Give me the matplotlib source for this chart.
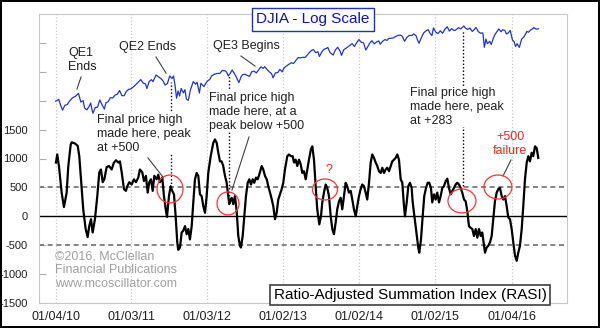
import numpy as np
import pandas as pd
import matplotlib
matplotlib.use('Agg')
import matplotlib.pyplot as plt
from matplotlib.patches import Ellipse

plt.rcParams['font.family'] = ['Liberation Sans', 'DejaVu Sans']

# DJIA closes (decimal year, level)
djia_t = [2010.01, 2010.05, 2010.08, 2010.10, 2010.13, 2010.16, 2010.19, 2010.23, 2010.27, 2010.31,
          2010.34, 2010.37, 2010.39, 2010.42, 2010.45, 2010.47, 2010.49, 2010.50, 2010.53, 2010.56,
          2010.59, 2010.62, 2010.65, 2010.67, 2010.70, 2010.73, 2010.76, 2010.79, 2010.82, 2010.85,
          2010.88, 2010.91, 2010.94, 2010.97, 2011.00, 2011.04, 2011.07, 2011.11, 2011.13, 2011.16,
          2011.19, 2011.21, 2011.24, 2011.27, 2011.29, 2011.33, 2011.36, 2011.39, 2011.42, 2011.45,
          2011.48, 2011.51, 2011.54, 2011.56, 2011.58, 2011.60, 2011.62, 2011.64, 2011.66, 2011.69,
          2011.71, 2011.73, 2011.755, 2011.78, 2011.82, 2011.85, 2011.87, 2011.90, 2011.92, 2011.96,
          2012.00, 2012.04, 2012.06, 2012.10, 2012.13, 2012.17, 2012.20, 2012.24, 2012.26, 2012.28,
          2012.31, 2012.33, 2012.36, 2012.38, 2012.42, 2012.45, 2012.47, 2012.50, 2012.53, 2012.56,
          2012.59, 2012.62, 2012.65, 2012.68, 2012.71, 2012.74, 2012.76, 2012.79, 2012.82, 2012.85,
          2012.87, 2012.90, 2012.93, 2012.96, 2012.99, 2013.01, 2013.04, 2013.08, 2013.11, 2013.14,
          2013.17, 2013.20, 2013.23, 2013.26, 2013.29, 2013.31, 2013.35, 2013.38, 2013.40, 2013.43,
          2013.46, 2013.48, 2013.51, 2013.54, 2013.57, 2013.59, 2013.62, 2013.66, 2013.69, 2013.72,
          2013.75, 2013.77, 2013.80, 2013.83, 2013.86, 2013.89, 2013.91, 2013.94, 2013.97, 2014.00,
          2014.03, 2014.06, 2014.09, 2014.12, 2014.14, 2014.17, 2014.20, 2014.23, 2014.26, 2014.28,
          2014.31, 2014.34, 2014.37, 2014.39, 2014.42, 2014.45, 2014.48, 2014.51, 2014.54, 2014.57,
          2014.60, 2014.63, 2014.66, 2014.70, 2014.72, 2014.75, 2014.77, 2014.79, 2014.82, 2014.85,
          2014.88, 2014.91, 2014.94, 2014.96, 2014.98, 2015.01, 2015.04, 2015.07, 2015.10, 2015.13,
          2015.16, 2015.19, 2015.22, 2015.25, 2015.27, 2015.31, 2015.34, 2015.38, 2015.40, 2015.43,
          2015.46, 2015.49, 2015.51, 2015.54, 2015.57, 2015.60, 2015.63, 2015.65, 2015.67, 2015.69,
          2015.72, 2015.74, 2015.77, 2015.79, 2015.82, 2015.84, 2015.87, 2015.89, 2015.92, 2015.94,
          2015.96, 2015.99, 2016.02, 2016.04, 2016.06, 2016.08, 2016.11, 2016.14, 2016.17, 2016.21,
          2016.23, 2016.26, 2016.29, 2016.30, 2016.33, 2016.36]
djia_v = [10580, 10725, 10190, 9910, 10270, 10320, 10570, 10840, 10970, 11200,
          10520, 10620, 10070, 9930, 10190, 10440, 9870, 9690, 10100, 10120,
          10680, 10300, 9990, 10450, 10540, 10860, 10830, 11060, 11130, 11440,
          11020, 11010, 11370, 11530, 11580, 11790, 11990, 12270, 12390, 12070,
          12020, 11610, 12220, 12380, 12200, 12810, 12640, 12510, 12290, 11900,
          12040, 12720, 12480, 12720, 11870, 10810, 11400, 10990, 11610, 11240,
          11510, 10730, 10650, 11430, 12210, 11980, 12150, 11230, 12050, 11770,
          12220, 12420, 12720, 12880, 12950, 12960, 13230, 13200, 13060, 12720,
          13000, 13280, 12960, 12700, 12120, 12650, 12840, 12880, 12770, 12680,
          13120, 13170, 13000, 13290, 13590, 13440, 13610, 13340, 13110, 12930,
          12540, 13010, 13030, 13350, 13100, 13440, 13650, 13860, 14010, 13930,
          14250, 14540, 14510, 14570, 14550, 14720, 15120, 15350, 15410, 15070,
          15180, 14660, 15140, 15460, 15540, 15660, 15080, 14810, 15380, 15680,
          15260, 14780, 15400, 15570, 15760, 15960, 16100, 15760, 16220, 16580,
          16260, 16200, 15370, 15800, 16130, 16450, 16070, 16300, 16420, 16030,
          16360, 16580, 16490, 16710, 16740, 16780, 16950, 17070, 17140, 16980,
          16370, 16840, 17080, 17100, 17280, 17070, 16540, 16140, 16800, 17390,
          17650, 17830, 17280, 17070, 18050, 17500, 17320, 17680, 17360, 17870,
          18210, 17640, 17960, 17710, 17760, 18080, 17930, 18310, 18040, 17850,
          18040, 17600, 17760, 18120, 17570, 17370, 17400, 15670, 16640, 16100,
          16380, 16000, 16800, 17220, 17650, 17920, 17550, 17810, 17720, 17270,
          17370, 17720, 16510, 16350, 15770, 16090, 15660, 16640, 16900, 17600,
          17500, 17790, 17990, 18100, 17890, 17930]

# Ratio-Adjusted Summation Index (decimal year, value)
rasi_t = [2010.013, 2010.030, 2010.053, 2010.088, 2010.118, 2010.154, 2010.175, 2010.207, 2010.220, 2010.263,
          2010.299, 2010.320, 2010.342, 2010.372, 2010.404, 2010.430, 2010.451, 2010.474, 2010.496, 2010.526,
          2010.557, 2010.583, 2010.605, 2010.628, 2010.649, 2010.680, 2010.711, 2010.746, 2010.776, 2010.803,
          2010.833, 2010.855, 2010.878, 2010.908, 2010.934, 2010.951, 2010.978, 2011.009, 2011.039, 2011.066,
          2011.096, 2011.118, 2011.149, 2011.171, 2011.197, 2011.220, 2011.241, 2011.263, 2011.286, 2011.307,
          2011.338, 2011.359, 2011.382, 2011.412, 2011.434, 2011.461, 2011.474, 2011.500, 2011.522, 2011.543,
          2011.566, 2011.588, 2011.609, 2011.622, 2011.645, 2011.667, 2011.688, 2011.711, 2011.733, 2011.754,
          2011.776, 2011.799, 2011.820, 2011.842, 2011.864, 2011.886, 2011.908, 2011.930, 2011.951, 2011.974,
          2011.996, 2012.017, 2012.049, 2012.083, 2012.105, 2012.128, 2012.149, 2012.171, 2012.193, 2012.214,
          2012.237, 2012.259, 2012.280, 2012.293, 2012.312, 2012.325, 2012.346, 2012.368, 2012.391, 2012.412,
          2012.434, 2012.447, 2012.470, 2012.491, 2012.513, 2012.536, 2012.557, 2012.579, 2012.601, 2012.622,
          2012.645, 2012.667, 2012.688, 2012.720, 2012.741, 2012.763, 2012.786, 2012.807, 2012.842, 2012.872,
          2012.895, 2012.917, 2012.938, 2012.961, 2012.983, 2013.004, 2013.026, 2013.057, 2013.079, 2013.105,
          2013.128, 2013.145, 2013.167, 2013.188, 2013.211, 2013.233, 2013.254, 2013.276, 2013.299, 2013.320,
          2013.342, 2013.368, 2013.386, 2013.408, 2013.430, 2013.451, 2013.478, 2013.500, 2013.517, 2013.539,
          2013.562, 2013.583, 2013.605, 2013.628, 2013.649, 2013.671, 2013.693, 2013.714, 2013.737, 2013.759,
          2013.780, 2013.803, 2013.825, 2013.846, 2013.868, 2013.891, 2013.912, 2013.934, 2013.957, 2013.978,
          2014.000, 2014.022, 2014.043, 2014.066, 2014.088, 2014.109, 2014.132, 2014.154, 2014.175, 2014.197,
          2014.220, 2014.241, 2014.263, 2014.286, 2014.307, 2014.329, 2014.351, 2014.372, 2014.395, 2014.417,
          2014.438, 2014.461, 2014.483, 2014.504, 2014.526, 2014.549, 2014.570, 2014.592, 2014.605, 2014.628,
          2014.649, 2014.671, 2014.693, 2014.707, 2014.737, 2014.759, 2014.780, 2014.793, 2014.816, 2014.838,
          2014.859, 2014.882, 2014.904, 2014.925, 2014.947, 2014.964, 2014.987, 2015.009, 2015.030, 2015.053,
          2015.075, 2015.096, 2015.118, 2015.141, 2015.162, 2015.184, 2015.207, 2015.228, 2015.250, 2015.272,
          2015.293, 2015.316, 2015.338, 2015.359, 2015.382, 2015.404, 2015.425, 2015.447, 2015.470, 2015.491,
          2015.513, 2015.536, 2015.557, 2015.579, 2015.601, 2015.622, 2015.645, 2015.658, 2015.680, 2015.701,
          2015.724, 2015.746, 2015.767, 2015.789, 2015.812, 2015.833, 2015.855, 2015.878, 2015.899, 2015.921,
          2015.943, 2015.964, 2015.987, 2016.009, 2016.030, 2016.053, 2016.075, 2016.096, 2016.118, 2016.141,
          2016.162, 2016.184, 2016.207, 2016.228, 2016.250, 2016.272, 2016.293, 2016.316, 2016.338, 2016.359]
rasi_v = [930, 1070, 860, 410, 160, 410, 860, 1240, 1280, 1260,
          1220, 1040, 640, 120, -220, -360, -170, -50, -280, -50,
          350, 760, 810, 590, 640, 850, 870, 810, 930, 970,
          930, 950, 760, 470, 440, 520, 590, 550, 640, 590,
          670, 810, 760, 610, 700, 410, 590, 640, 440, 700,
          640, 720, 590, 670, 350, 90, -10, 350, 520, 440,
          380, 0, -450, -580, -540, -280, -250, -170, -310, -220,
          -400, -170, 240, 640, 750, 700, 380, 350, 180, 60,
          350, 750, 1040, 1270, 1330, 1270, 1100, 950, 950, 870,
          700, 580, 350, 210, 290, 320, 210, 350, 90, -340,
          -510, -540, -340, 0, 350, 580, 640, 550, 640, 580,
          670, 640, 720, 870, 810, 700, 640, 520, 350, 180,
          -50, 60, 290, 380, 470, 580, 810, 1040, 1070, 1040,
          1040, 930, 980, 870, 980, 900, 750, 780, 640, 810,
          980, 1160, 1210, 980, 520, 120, -140, 0, 240, 410,
          550, 490, 350, 0, -220, -310, -110, 120, 260, 320,
          120, 350, 580, 520, 410, 440, 290, 120, 0, 180,
          350, 470, 550, 520, 410, 290, 580, 930, 1070, 1010,
          930, 870, 780, 750, 840, 750, 810, 840, 780, 870,
          950, 980, 1010, 1070, 980, 640, 580, 180, 0, 240,
          520, 580, 490, 240, -80, -330, -540, -630, -400, 0,
          350, 490, 580, 580, 490, 240, 380, 290, 410, 240,
          350, 490, 520, 610, 650, 490, 380, 440, 490, 550,
          580, 550, 490, 410, 290, 260, 90, -170, -200, -220,
          -340, -220, -370, -220, -340, -280, -510, -630, -540, -510,
          -450, -340, -50, 260, 410, 470, 490, 350, 290, 350,
          180, -20, -50, -220, -450, -680, -770, -630, -510, -220,
          180, 640, 930, 1040, 950, 1100, 1040, 1210, 1180, 1010]

tick_dates = ['01/04/10', '01/03/11', '01/03/12', '01/02/13', '01/02/14', '01/02/15', '01/04/16']
yticks = [-1500, -1000, -500, 0, 500, 1000, 1500, 2000, 2500, 3000]
ylabels = ['-1500', '-1000', '-500', '0', '500', '1000', '1500', '', '', '']

def decimal_year(s):
    d = pd.to_datetime(s, format='%m/%d/%y')
    return d.year + (d.dayofyear - 1) / 365.25

tick_pos = [decimal_year(s) for s in tick_dates]

fig = plt.figure(figsize=(6, 3.28), dpi=100)
fig.patch.set_facecolor('white')
fig.patch.set_edgecolor('black')
fig.patch.set_linewidth(1.5)

ax = fig.add_axes([39 / 600, 25 / 328, 528 / 600, 289 / 328])
ax.set_xlim(2009.79, 2016.737)
ax.set_ylim(-1500, 3500)

for s in ax.spines.values():
    s.set_color('#c8c8c8')
ax.set_xticks(tick_pos)
ax.set_xticklabels(tick_dates, fontsize=9, color='#202020')
ax.tick_params(axis='x', length=0, pad=6)
ax.set_yticks(yticks)
ax.set_yticklabels(ylabels, fontsize=8, color='#202020')
ax.tick_params(axis='y', direction='in', length=5, color='#b0b0b0', pad=8)

for p in tick_pos:
    ax.axvline(p, color='#c8c8c8', lw=0.9, ls=':', zorder=1)
ax.axhline(0, color='black', lw=1.0, zorder=2)
for lv in (500, -500):
    ax.axhline(lv, color='#707070', lw=1.2, ls=(0, (3, 2.2)), zorder=2)

ax.plot(rasi_t, rasi_v, color='black', lw=1.6, zorder=4)

# vertical dotted markers: final price highs
highs = [(2011.527, 507, 2324), (2012.290, 351, 2445), (2015.369, 524, 3223)]
for t, lo, hi in highs:
    ax.plot([t, t], [lo, hi], color='black', lw=1.0, ls=(0, (1, 1.5)), zorder=3)

# red circles around the RASI peaks
circles = [(2011.514, 472, 0.342, 484), (2012.277, 222, 0.289, 398), (2013.553, 464, 0.329, 363),
           (2015.355, 265, 0.368, 415), (2015.829, 507, 0.368, 415)]
for cx, cy, w, h in circles:
    ax.add_patch(Ellipse((cx, cy), w, h, fill=False, ec='#ff3333', lw=0.9, zorder=5))

# leader lines
leaders = [((2010.343, 2410), (2010.290, 2202)),
           ((2011.329, 2756), (2011.461, 2479)),
           ((2012.448, 2773), (2012.632, 2600)),
           ((2011.224, 1009), (2011.421, 680)),
           ((2012.553, 1372), (2012.329, 455)),
           ((2016.000, 974), (2015.895, 697))]
for (x0, y0), (x1, y1) in leaders:
    ax.plot([x0, x1], [y0, y1], color='#404040', lw=0.8, zorder=3)

txt = dict(fontsize=9, color='#202020', ha='left', va='top', zorder=6)
wb = dict(boxstyle='square,pad=0.05', fc='white', ec='none')
ax.text(2010.17, 2929, 'QE1\nEnds', **txt)
ax.text(2010.843, 3033, 'QE2 Ends', **txt)
ax.text(2012.079, 3050, 'QE3 Begins', **txt)
ax.text(2010.553, 1770, 'Final price high\nmade here, peak\nat +500', bbox=wb, **txt)
ax.text(2012.027, 2150, 'Final price high\nmade here, at a\npeak below +500', bbox=wb, **txt)
ax.text(2014.671, 2237, 'Final price high\nmade here, peak\nat +283', bbox=wb, **txt)
ax.text(2015.987, 1476, '+500\nfailure', fontsize=9, color='#ff2020', ha='center', va='top',
        multialignment='center', zorder=6)
ax.text(2013.606, 905, '?', fontsize=9, color='#ff2020', ha='center', va='top', zorder=6)
ax.text(2010.0, -590, '\u00a92016, McClellan\nFinancial Publications\nwww.mcoscillator.com',
        fontsize=9, color='#a0a0a0', ha='left', va='top', zorder=6)

# DJIA on its own log axis sharing the same box
ax2 = ax.twinx()
ax2.set_yscale('log')
ax2.set_ylim(2430, 19980)
ax2.plot(djia_t, djia_v, color='#1f35d0', lw=0.9)
ax2.set_yticks([])
ax2.minorticks_off()
ax2.yaxis.set_minor_locator(matplotlib.ticker.NullLocator())
for s in ax2.spines.values():
    s.set_visible(False)

fig.text(313 / 600, 1 - 19.5 / 328, 'DJIA - Log Scale', fontsize=11, color='#1010c0',
         ha='center', va='center',
         bbox=dict(boxstyle='square,pad=0.3', fc='white', ec='#2030c0', lw=1.0))
fig.text(410 / 600, 1 - 295 / 328, 'Ratio-Adjusted Summation Index (RASI)', fontsize=11,
         color='black', ha='center', va='center',
         bbox=dict(boxstyle='square,pad=0.22', fc='white', ec='#404040', lw=1.2))

fig.savefig('out.png', dpi=100)
